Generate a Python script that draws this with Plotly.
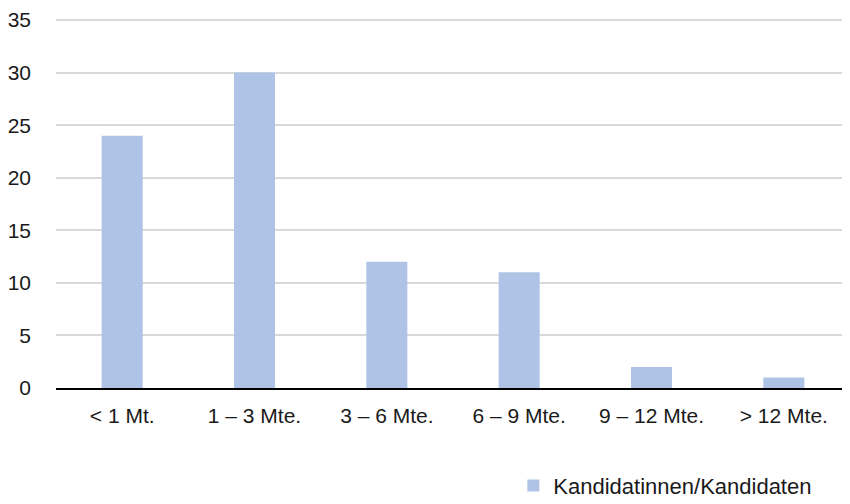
import plotly.graph_objects as go

categories = ["< 1 Mt.", "1 – 3 Mte.", "3 – 6 Mte.", "6 – 9 Mte.", "9 – 12 Mte.", "> 12 Mte."]
values = [24, 30, 12, 11, 2, 1]
series_name = "Kandidatinnen/Kandidaten"
y_ticks = [0, 5, 10, 15, 20, 25, 30, 35]

fig = go.Figure()
fig.add_trace(go.Bar(x=categories, y=values, name=series_name,
                     marker=dict(color="#AEC3E5", line=dict(width=0))))

font = "Liberation Sans, Arial, sans-serif"
# page body has an 8px margin, so the figure is drawn 8px smaller
fig.update_layout(
    width=842, height=496,
    margin=dict(l=48, r=0, t=11, b=116, autoexpand=False),
    paper_bgcolor="white", plot_bgcolor="white",
    bargap=0.69,
    font=dict(family=font, size=21, color="#1a1a1a"),
    showlegend=True,
    legend=dict(orientation="h", x=0.576, xanchor="left", y=-0.265, yanchor="middle",
                font=dict(size=22), itemwidth=30),
    xaxis=dict(showgrid=False, showline=True, linecolor="#000000", linewidth=2,
               ticks="", ticklabelstandoff=8),
    yaxis=dict(range=[0, 35.1], tickvals=y_ticks, showgrid=True, gridcolor="#D9D9D9",
               gridwidth=1.5, zeroline=False, showline=False, ticks="",
               ticklabelstandoff=24, ticklabeloverflow="allow",
               tickfont=dict(size=21)),
)
fig.write_html("out.html")
